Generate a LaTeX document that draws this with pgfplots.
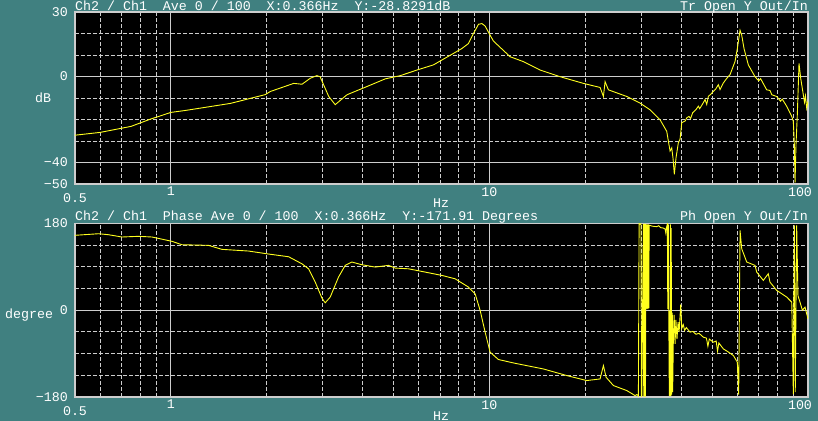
\documentclass[border=0pt]{standalone}
\usepackage{fontspec}
\setmainfont{Liberation Mono}
\usepackage{pgfplots}
\pgfplotsset{compat=1.18}

\definecolor{bg}{RGB}{64,128,128}
\definecolor{gridc}{RGB}{205,205,205}
\definecolor{trace}{RGB}{255,255,30}
\newcommand{\scr}{\fontsize{13.3bp}{14bp}\selectfont}

\pgfplotsset{
  every axis/.append style={
    scale only axis, width=733bp,
    axis background/.style={fill=black},
    axis line style={draw=gridc, line width=1.5bp},
    tick style={draw=none},
    grid=both,
    major grid style={draw=gridc, line width=0.8bp},
    minor grid style={draw=gridc, line width=0.8bp, dash pattern=on 4bp off 2bp},
    tick label style={font=\scr, text=white},
    xticklabel style={inner sep=0pt, yshift=-3bp},
    yticklabel style={inner sep=0pt, xshift=-7bp},
  },
}

\begin{document}
\begin{tikzpicture}
\fill[bg] (0,0) rectangle (818bp,421bp);

% magnitude
\begin{axis}[at={(75bp,237bp)}, anchor=south west, height=172bp,
  xmode=log, xmin=0.5, xmax=100,
  xtick={1,10,100}, xticklabels={1,10,\hspace*{-16bp}100},
  minor xtick={0.6,0.7,0.8,0.9,2,3,4,5,6,7,8,9,20,30,40,50,60,70,80,90},
  extra x ticks={0.5}, extra x tick labels={0.5},
  extra x tick style={xticklabel style={yshift=-6bp}},
  ymin=-50, ymax=30,
  ytick={-50,-40,0,30}, yticklabels={−50,−40,0,30},
  minor ytick={-30,-20,-10,10,20}]
\addplot[trace, line width=0.9bp] coordinates {
(0.5,-27.3) (0.60,-26.0) (0.75,-23.2) (0.86,-19.9) (1.0,-16.7) (1.11,-15.8)
(1.54,-12.5) (1.98,-8.4) (2.05,-7.0) (2.43,-3.2) (2.58,-3.6) (2.74,-0.8)
(2.87,0.4) (2.94,-0.1) (3.13,-9.3) (3.28,-13.1) (3.57,-8.5) (4.12,-4.7)
(4.71,-1.1) (5.25,0.4) (5.92,3.0) (6.67,5.4) (7.62,10.3) (8.19,13.0)
(8.59,15.3) (8.91,20.0) (9.24,24.3) (9.47,24.6) (9.69,23.5) (10.05,19.2)
(10.29,16.5) (11.61,9.2) (12.79,6.9) (14.42,3.0) (16.67,-0.1) (19.72,-3.2)
(22.25,-5.1) (22.79,-9.3) (23.07,-2.4) (23.63,-6.2) (26.99,-9.3) (29.71,-12.4)
(31.93,-15.5) (34.32,-20.1) (36.02,-25.5) (36.90,-34.7) (37.35,-33.2) (37.7,-38)
(38.06,-45.5) (38.53,-37.8) (39.17,-30.9) (39.66,-29.2) (40.15,-21.5) (41.14,-20.7)
(41.65,-19.2) (42.3,-18.6) (42.8,-19.5) (43.47,-16.8) (44.56,-15.3) (45.27,-13.8)
(45.7,-15.0) (46.93,-12.2) (47.52,-10.7) (48.10,-13.0) (48.67,-9.2) (49.5,-8.3)
(50.45,-6.9) (51.3,-5.9) (52.30,-3.8) (52.95,-6.1) (54.24,-3.0) (55.5,-1.0)
(56.93,0.9) (59.02,7.0) (60.01,13.0) (61.19,21.5) (61.94,19.2)
(62.98,13.0) (64.97,5.4) (68.19,-0.1) (70,-2) (71,-1) (74.20,-6.2)
(76,-6.5) (77,-8.5) (79.76,-9.3) (82,-11.5) (83,-10.5) (85.77,-13.9)
(88.92,-18.6) (89.94,-20.9) (90.59,-31.6) (91.05,-49.4) (91.70,-31.6) (92.57,-17.8)
(93.71,6.1) (94.86,-0.8) (96.67,-8.5) (97.5,-12) (98.2,-9) (99.06,-14.7) (100,-11.6)
};
\end{axis}

% phase
\begin{axis}[at={(75bp,24bp)}, anchor=south west, height=173.7bp,
  xmode=log, xmin=0.5, xmax=100,
  xtick={1,10,100}, xticklabels={1,10,\hspace*{-16bp}100},
  minor xtick={0.6,0.7,0.8,0.9,2,3,4,5,6,7,8,9,20,30,40,50,60,70,80,90},
  extra x ticks={0.5}, extra x tick labels={0.5},
  extra x tick style={xticklabel style={yshift=-6bp}},
  ymin=-180, ymax=180,
  ytick={-180,0,180}, yticklabels={−180,0,180},
  minor ytick={-135,-90,-45,45,90,135}]
\addplot[trace, line width=0.9bp] coordinates {
(0.5,155.1) (0.593,158.4) (0.6375,156.3) (0.702,151.6) (0.792,153) (0.8725,151.6)
(1.008,142.6) (1.083,135.6) (1.313,134.3) (1.446,126) (1.753,122.5) (2.026,116.3)
(2.341,110.7) (2.578,96.1) (2.705,85.7) (2.839,58.1) (2.980,24.9) (3.051,15.2)
(3.163,27) (3.359,68.5) (3.526,92.8) (3.700,99.7) (3.977,94.1) (4.379,89.3)
(4.822,92.8) (5.060,87.2) (5.569,85.7) (6.284,78.9) (7.089,72) (7.805,65)
(8.592,47.8) (9.018,33.8) (9.350,-0.6) (9.694,-45.7) (10.05,-87.2) (10.67,-102.3)
(12.0,-110) (14.77,-121.9) (17.50,-135.6) (20.21,-145.9) (22.25,-142.6) (22.79,-114.8)
(23.24,-139.1) (24.50,-156.3) (26.99,-166.7) (28.66,-177.1) (29.0,-175) (29.3,-177)
(29.35,-179.5) (29.5,179.5) (29.72,178) (29.9,179) (30.0,-179.5) (30.08,-178)
(30.43,179) (30.5,-179) (30.6,179) (30.7,-179) (30.8,179) (30.9,-179) (30.96,179)
(31.05,2) (31.15,178) (31.25,3) (31.35,178) (31.45,2) (31.55,178) (31.65,4) (31.72,176)
(32.5,174) (33.5,173) (34,175) (34.5,171) (35.2,170) (35.6,168) (35.78,160) (35.9,170)
(36.18,178) (36.3,2) (36.45,178) (36.55,0) (36.7,-178) (36.8,-2) (36.9,-178)
(37.0,178) (37.1,-178) (37.2,170) (37.35,-175) (37.5,-5) (37.6,-170) (37.79,-60)
(38.0,-10) (38.26,-70) (38.5,-20) (38.8,-60) (39.1,-25) (39.4,-45) (39.86,12)
(40.15,-38) (40.6,-30) (41.0,-42) (41.5,-36) (42.64,-45.7) (43.5,-44) (44.5,-50)
(45.5,-48) (46.93,-56) (48,-58) (48.5,-75) (49,-60) (50.45,-66.4) (51.5,-64) (52,-85)
(52.5,-68) (54.24,-80.3) (56,-86) (58.30,-94) (60.01,-107.9) (60.6,-175)
(61.19,165.5) (61.94,127.3) (64.22,99.7) (68.19,92.8) (69.03,78.9) (72.40,61.7)
(75.06,75.4) (75.99,58.1) (79.76,40.9) (85.77,27) (88.92,16.6) (89.94,-173.8)
(90.6,175.8) (91.2,-170) (92.15,175.8) (93,30) (94.38,16.6) (96,0)
(97.86,6.2) (100,-18)
};
\end{axis}

\begin{scope}[every node/.style={font=\scr, text=white, inner sep=0pt}]
\node[anchor=base west] at (75bp,410.7bp) {Ch2 / Ch1\ \ Ave 0 / 100\ \ X:0.366Hz\ \ Y:-28.8291dB};
\node[anchor=base east] at (808bp,410.7bp) {Tr Open Y Out/In};
\node[anchor=base west] at (75bp,200.3bp) {Ch2 / Ch1\ \ Phase Ave 0 / 100\ \ X:0.366Hz\ \ Y:-171.91 Degrees};
\node[anchor=base east] at (808bp,200.3bp) {Ph Open Y Out/In};
\node[anchor=base west] at (35bp,318bp) {dB};
\node[anchor=base west] at (5bp,102.7bp) {degree};
\node[anchor=base west] at (433bp,213.5bp) {Hz};
\node[anchor=base west] at (433bp,1bp) {Hz};
\end{scope}

\pgfresetboundingbox
\path[use as bounding box] (0,0) rectangle (818bp,421bp);
\end{tikzpicture}
\end{document}
